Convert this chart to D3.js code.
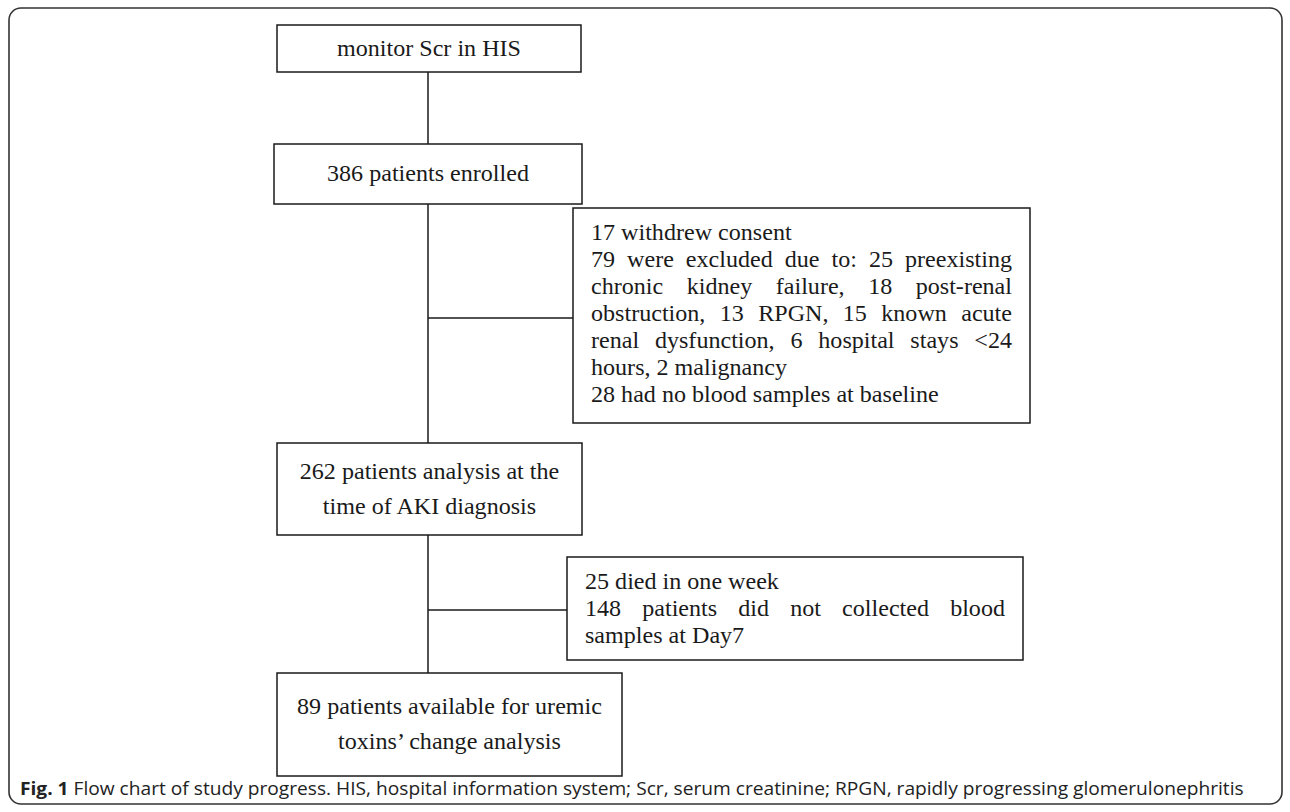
<!DOCTYPE html>
<html>
<head>
<meta charset="utf-8">
<script src="https://cdn.jsdelivr.net/npm/d3@7"></script>
<style>
  html, body { margin: 0; padding: 0; background: #fff; }
  svg { display: block; }
</style>
</head>
<body>
<div id="chart"></div>
<script>
// ---- DATA ----
let mainSteps = [
    ["monitor Scr in HIS"],
    ["386 patients enrolled"],
    ["262 patients analysis at the", "time of AKI diagnosis"],
    ["89 patients available for uremic", "toxins\u2019 change analysis"]
];

let exclusionLines1 = [
    "17 withdrew consent",
    "79 were excluded due to: 25 preexisting",
    "chronic kidney failure, 18 post-renal",
    "obstruction, 13 RPGN, 15 known acute",
    "renal dysfunction, 6 hospital stays <24",
    "hours, 2 malignancy",
    "28 had no blood samples at baseline"
];
let exclusionJustify1 = [false, true, true, true, true, false, false];

let exclusionLines2 = [
    "25 died in one week",
    "148 patients did not collected blood",
    "samples at Day7"
];
let exclusionJustify2 = [false, true, false];

let captionBold = "Fig. 1";
let captionText = " Flow chart of study progress. HIS, hospital information system; Scr, serum creatinine; RPGN, rapidly progressing glomerulonephritis";

// ---- LAYOUT ----
let W = 1290, H = 812;
let stemX = 428;
let mainBoxes = [
    {x0: 277, x1: 581, y0: 25,  y1: 72},
    {x0: 274, x1: 582, y0: 144, y1: 204},
    {x0: 277, x1: 582, y0: 443, y1: 535},
    {x0: 277, x1: 622, y0: 673, y1: 776}
];
let sideBoxes = [
    {x0: 573, x1: 1030, y0: 208, y1: 423, joinY: 318, lines: exclusionLines1, justify: exclusionJustify1},
    {x0: 567, x1: 1023, y0: 557, y1: 660, joinY: 610, lines: exclusionLines2, justify: exclusionJustify2}
];
let serif = "'Liberation Serif', 'Times New Roman', serif";
let ink = "#1a1a1a";

var svg = d3.select("#chart")
            .append("svg")
            .attr("width", W)
            .attr("height", H);

// outer frame
svg.append("rect")
   .attr("x", 9).attr("y", 8)
   .attr("width", 1273).attr("height", 796)
   .attr("rx", 12).attr("ry", 12)
   .attr("fill", "none")
   .attr("stroke", "#333")
   .attr("stroke-width", 1.6);

// fit a font size so that a sample string reaches a target width
function fitSize(family, sample, target, weight) {
    let t = svg.append("text")
               .attr("font-family", family)
               .attr("font-size", 20)
               .attr("font-weight", weight || "normal")
               .text(sample);
    let w = t.node().getComputedTextLength();
    t.remove();
    return 20 * target / w;
}

let mainSize = fitSize(serif, mainSteps[3][0], 305);
let sideSize = fitSize(serif, exclusionLines1[6], 348);

// CONNECTORS
let stems = d3.pairs(mainBoxes).map(p => ({x1: stemX, y1: p[0].y1, x2: stemX, y2: p[1].y0}));
let branches = sideBoxes.map(b => ({x1: stemX, y1: b.joinY, x2: b.x0, y2: b.joinY}));

svg.append("g")
   .selectAll("line")
   .data(stems.concat(branches))
   .enter().append("line")
   .attr("x1", d => d.x1).attr("y1", d => d.y1)
   .attr("x2", d => d.x2).attr("y2", d => d.y2)
   .attr("stroke", ink)
   .attr("stroke-width", 1.5);

// MAIN BOXES
let mainG = svg.append("g")
               .selectAll("g")
               .data(mainBoxes.map((b, i) => Object.assign({lines: mainSteps[i]}, b)))
               .enter().append("g");

mainG.append("rect")
     .attr("x", d => d.x0).attr("y", d => d.y0)
     .attr("width", d => d.x1 - d.x0).attr("height", d => d.y1 - d.y0)
     .attr("fill", "#fff")
     .attr("stroke", ink)
     .attr("stroke-width", 1.5);

let mainLH = 35;
mainG.each(function(d) {
    let cx = (d.x0 + d.x1) / 2;
    let cy = (d.y0 + d.y1) / 2;
    let n = d.lines.length;
    d3.select(this).selectAll("text")
      .data(d.lines)
      .enter().append("text")
      .attr("x", cx)
      .attr("y", (l, i) => cy + 7 + (i - (n - 1) / 2) * mainLH)
      .attr("text-anchor", "middle")
      .attr("font-family", serif)
      .attr("font-size", mainSize)
      .attr("fill", ink)
      .text(l => l);
});

// SIDE BOXES (justified text)
let pad = 18, sideLH = 27;
sideBoxes.forEach(b => {
    let g = svg.append("g");
    g.append("rect")
     .attr("x", b.x0).attr("y", b.y0)
     .attr("width", b.x1 - b.x0).attr("height", b.y1 - b.y0)
     .attr("fill", "#fff")
     .attr("stroke", ink)
     .attr("stroke-width", 1.5);

    let left = b.x0 + pad, right = b.x1 - pad;
    b.lines.forEach((line, i) => {
        let y = b.y0 + 32 + i * sideLH;
        if (!b.justify[i]) {
            g.append("text")
             .attr("x", left).attr("y", y)
             .attr("font-family", serif)
             .attr("font-size", sideSize)
             .attr("fill", ink)
             .text(line);
            return;
        }
        let words = line.split(" ");
        let ws = words.map(w => {
            let t = g.append("text")
                     .attr("y", y)
                     .attr("font-family", serif)
                     .attr("font-size", sideSize)
                     .attr("fill", ink)
                     .text(w);
            return {node: t, w: t.node().getComputedTextLength()};
        });
        let total = d3.sum(ws, d => d.w);
        let gap = (right - left - total) / (ws.length - 1);
        let x = left;
        ws.forEach(d => {
            d.node.attr("x", x);
            x += d.w + gap;
        });
    });
});

// CAPTION
let sans = "'Open Sans', 'Noto Sans', sans-serif";
let cap = svg.append("text")
             .attr("x", 0).attr("y", 0)
             .attr("font-family", sans)
             .attr("font-size", 18)
             .attr("fill", "#222");
cap.append("tspan").attr("font-weight", "bold").text(captionBold);
cap.append("tspan").text(captionText);
let capW = cap.node().getComputedTextLength();
let capTarget = 1225;
cap.attr("transform", "translate(20,795) scale(" + (capTarget / capW) + ",1)");
</script>
</body>
</html>
